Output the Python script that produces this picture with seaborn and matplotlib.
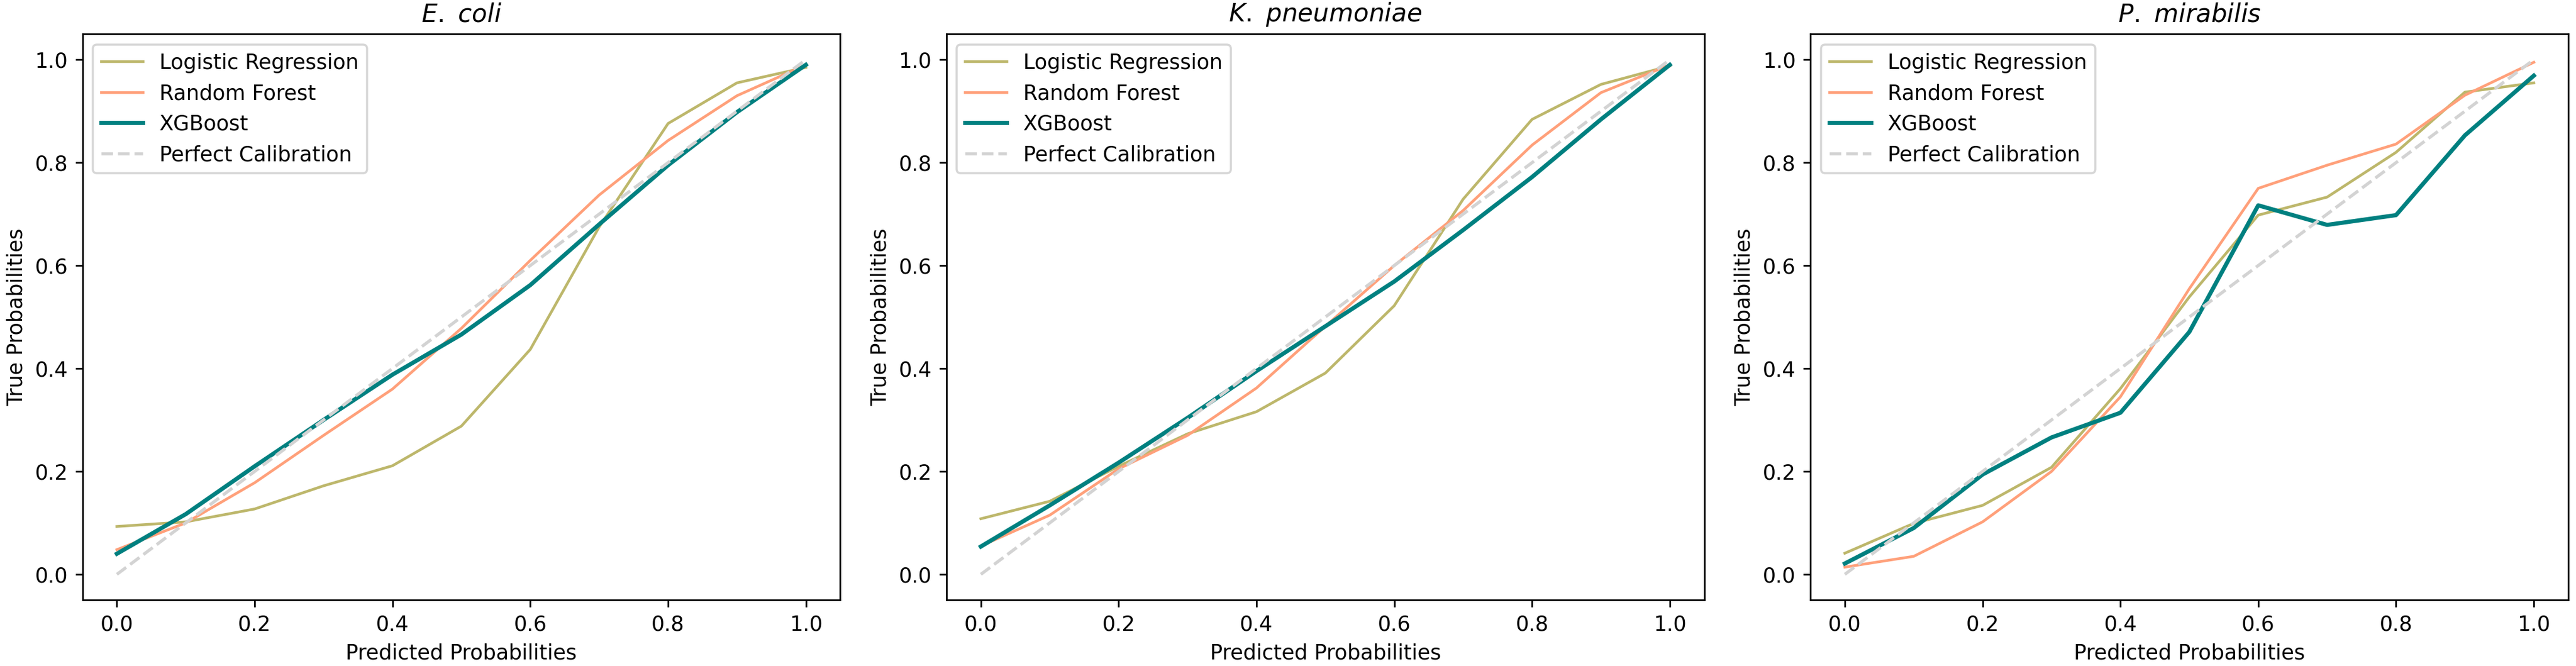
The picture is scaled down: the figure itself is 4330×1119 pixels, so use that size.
import numpy as np
import pandas as pd
import matplotlib
matplotlib.use("Agg")
import matplotlib.pyplot as plt
import seaborn as sns

# probability bins (x axis)
prob_bins = [0.0, 0.1, 0.2, 0.3, 0.4, 0.5, 0.6, 0.7, 0.8, 0.9, 1.0]

species = ["E. coli", "K. pneumoniae", "P. mirabilis"]
titles = [r"$\it{E.\ coli}$", r"$\it{K.\ pneumoniae}$", r"$\it{P.\ mirabilis}$"]

models = ["Logistic Regression", "Random Forest", "XGBoost"]

# true probabilities
ecoli_lr = [0.093, 0.102, 0.127, 0.172, 0.211, 0.288, 0.437, 0.675, 0.876, 0.955, 0.985]
ecoli_rf = [0.048, 0.100, 0.178, 0.270, 0.360, 0.478, 0.610, 0.737, 0.843, 0.930, 0.990]
ecoli_xgb = [0.040, 0.117, 0.210, 0.300, 0.388, 0.466, 0.562, 0.680, 0.795, 0.898, 0.990]

kpn_lr = [0.108, 0.142, 0.210, 0.273, 0.316, 0.391, 0.522, 0.729, 0.884, 0.952, 0.988]
kpn_rf = [0.055, 0.115, 0.205, 0.270, 0.362, 0.482, 0.600, 0.707, 0.834, 0.936, 0.990]
kpn_xgb = [0.054, 0.134, 0.217, 0.304, 0.395, 0.482, 0.569, 0.669, 0.772, 0.884, 0.990]

pmi_lr = [0.041, 0.099, 0.134, 0.208, 0.361, 0.539, 0.698, 0.733, 0.820, 0.937, 0.955]
pmi_rf = [0.014, 0.035, 0.102, 0.200, 0.345, 0.555, 0.750, 0.795, 0.836, 0.931, 0.995]
pmi_xgb = [0.021, 0.090, 0.194, 0.266, 0.314, 0.471, 0.717, 0.679, 0.698, 0.853, 0.969]

curves = {
    "E. coli": [ecoli_lr, ecoli_rf, ecoli_xgb],
    "K. pneumoniae": [kpn_lr, kpn_rf, kpn_xgb],
    "P. mirabilis": [pmi_lr, pmi_rf, pmi_xgb],
}

colors = ["darkkhaki", "lightsalmon", "teal"]
widths = [1.3, 1.3, 2.0]

DPI = 252
fig, axes = plt.subplots(1, 3, figsize=(4330 / DPI, 1119 / DPI))
plt.subplots_adjust(left=0.032, right=0.997, bottom=0.099, top=0.949, wspace=0.14)

for ax, sp, title in zip(axes, species, titles):
    for name, vals, c, lw in zip(models, curves[sp], colors, widths):
        sns.lineplot(x=prob_bins, y=vals, ax=ax, color=c, linewidth=lw, label=name)
    # diagonal reference
    sns.lineplot(x=prob_bins, y=prob_bins, ax=ax, color="lightgray", linestyle="--",
                 linewidth=1.5, label="Perfect Calibration")
    ax.set_title(title, fontsize=12)
    ax.set_xlabel("Predicted Probabilities")
    ax.set_ylabel("True Probabilities")
    ax.legend(loc="upper left")

plt.savefig("out.png", dpi=DPI)
